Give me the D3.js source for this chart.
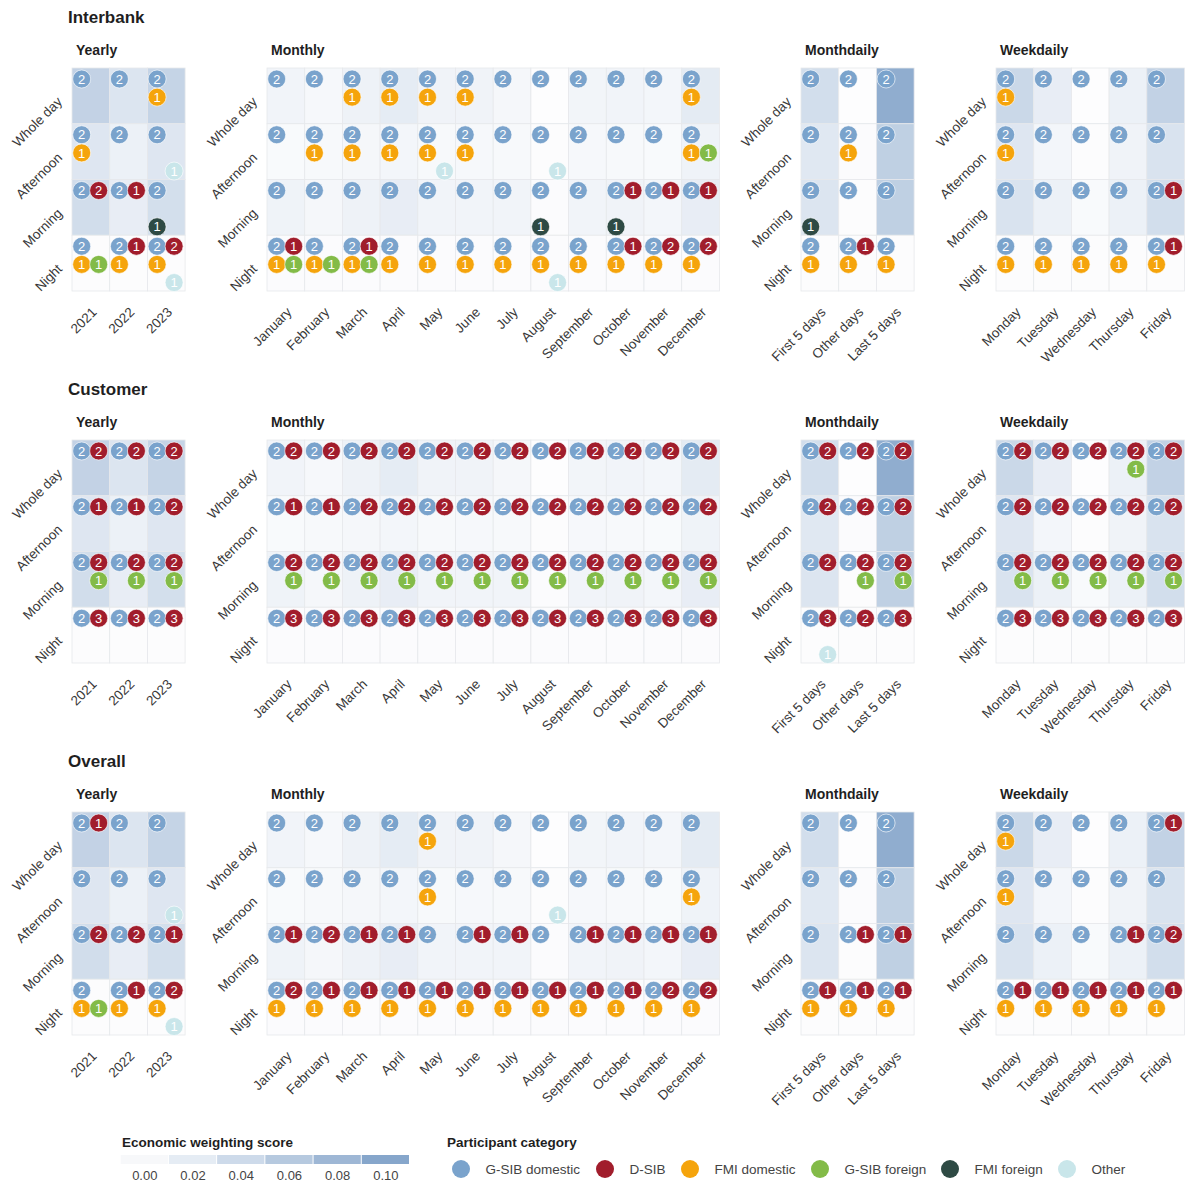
<!DOCTYPE html>
<html>
<head>
<meta charset="utf-8">
<script src="https://cdn.jsdelivr.net/npm/d3@7"></script>
<style>
  body { margin: 0; background: #ffffff; }
  svg text { font-family: "Liberation Sans", Arial, sans-serif; }
</style>
</head>
<body>
<svg id="chart" width="1186" height="1180"></svg>
<script>
// ---- categories -------------------------------------------------------
const dayParts = ["Whole day", "Afternoon", "Morning", "Night"];
const years = ["2021", "2022", "2023"];
const months = ["January", "February", "March", "April", "May", "June", "July",
                "August", "September", "October", "November", "December"];
const monthParts = ["First 5 days", "Other days", "Last 5 days"];
const weekdays = ["Monday", "Tuesday", "Wednesday", "Thursday", "Friday"];

const categoryCodes = ["gd", "ds", "fd", "gf", "ff", "ot"];
const categoryNames = ["G-SIB domestic", "D-SIB", "FMI domestic", "G-SIB foreign", "FMI foreign", "Other"];
const categoryColors = ["#7aa3cc", "#a11d2c", "#f5a40c", "#83bb48", "#2e4a44", "#c9e6ea"];

const scoreTicks = [0.00, 0.02, 0.04, 0.06, 0.08, 0.10];

// ---- economic weighting score per time bucket (rows follow dayParts) ----
const yearlyScore = [
  [0.049, 0.028, 0.047],
  [0.026, 0.014, 0.026],
  [0.037, 0.018, 0.035],
  [0.001, 0.001, 0.001]
];
const monthlyScore = [
  [0.010, 0.006, 0.013, 0.020, 0.011, 0.011, 0.007, 0.000, 0.009, 0.010, 0.008, 0.021],
  [0.004, 0.005, 0.007, 0.008, 0.005, 0.006, 0.005, 0.001, 0.006, 0.005, 0.004, 0.012],
  [0.012, 0.007, 0.013, 0.018, 0.010, 0.010, 0.010, 0.002, 0.010, 0.011, 0.008, 0.018],
  [0.002, 0.002, 0.002, 0.002, 0.002, 0.002, 0.002, 0.002, 0.002, 0.002, 0.002, 0.002]
];
const monthdailyScore = [
  [0.036, 0.000, 0.092],
  [0.024, 0.002, 0.052],
  [0.028, 0.001, 0.052],
  [0.001, 0.001, 0.001]
];
const weekdailyScore = [
  [0.043, 0.018, 0.000, 0.014, 0.050],
  [0.026, 0.008, 0.001, 0.011, 0.030],
  [0.030, 0.014, 0.004, 0.014, 0.036],
  [0.001, 0.001, 0.001, 0.001, 0.001]
];

// ---- participant counts per cell: code + count, rows follow dayParts ----
const interbankYearly = [
  ["gd2", "gd2", "gd2 fd1"],
  ["gd2 fd1", "gd2", "gd2 ot1"],
  ["gd2 ds2", "gd2 ds1", "gd2 ff1"],
  ["gd2 fd1 gf1", "gd2 ds1 fd1", "gd2 ds2 fd1 ot1"]
];
const interbankMonthly = [
  ["gd2", "gd2", "gd2 fd1", "gd2 fd1", "gd2 fd1", "gd2 fd1", "gd2", "gd2", "gd2", "gd2", "gd2", "gd2 fd1"],
  ["gd2", "gd2 fd1", "gd2 fd1", "gd2 fd1", "gd2 fd1 ot1", "gd2 fd1", "gd2", "gd2 ot1", "gd2", "gd2", "gd2", "gd2 fd1 gf1"],
  ["gd2", "gd2", "gd2", "gd2", "gd2", "gd2", "gd2", "gd2 ff1", "gd2", "gd2 ds1 ff1", "gd2 ds1", "gd2 ds1"],
  ["gd2 ds1 fd1 gf1", "gd2 fd1 gf1", "gd2 ds1 fd1 gf1", "gd2 fd1", "gd2 fd1", "gd2 fd1", "gd2 fd1", "gd2 fd1 ot1", "gd2 fd1", "gd2 ds1 fd1", "gd2 ds2 fd1", "gd2 ds2 fd1"]
];
const interbankMonthdaily = [
  ["gd2", "gd2", "gd2"],
  ["gd2", "gd2 fd1", "gd2"],
  ["gd2 ff1", "gd2", "gd2"],
  ["gd2 fd1", "gd2 ds1 fd1", "gd2 fd1"]
];
const interbankWeekdaily = [
  ["gd2 fd1", "gd2", "gd2", "gd2", "gd2"],
  ["gd2 fd1", "gd2", "gd2", "gd2", "gd2"],
  ["gd2", "gd2", "gd2", "gd2", "gd2 ds1"],
  ["gd2 fd1", "gd2 fd1", "gd2 fd1", "gd2 fd1", "gd2 ds1 fd1"]
];

const customerYearly = [
  ["gd2 ds2", "gd2 ds2", "gd2 ds2"],
  ["gd2 ds1", "gd2 ds1", "gd2 ds2"],
  ["gd2 ds2 gf1", "gd2 ds2 gf1", "gd2 ds2 gf1"],
  ["gd2 ds3", "gd2 ds3", "gd2 ds3"]
];
const customerMonthly = [
  ["gd2 ds2", "gd2 ds2", "gd2 ds2", "gd2 ds2", "gd2 ds2", "gd2 ds2", "gd2 ds2", "gd2 ds2", "gd2 ds2", "gd2 ds2", "gd2 ds2", "gd2 ds2"],
  ["gd2 ds1", "gd2 ds1", "gd2 ds2", "gd2 ds2", "gd2 ds2", "gd2 ds2", "gd2 ds2", "gd2 ds2", "gd2 ds2", "gd2 ds2", "gd2 ds2", "gd2 ds2"],
  ["gd2 ds2 gf1", "gd2 ds2 gf1", "gd2 ds2 gf1", "gd2 ds2 gf1", "gd2 ds2 gf1", "gd2 ds2 gf1", "gd2 ds2 gf1", "gd2 ds2 gf1", "gd2 ds2 gf1", "gd2 ds2 gf1", "gd2 ds2 gf1", "gd2 ds2 gf1"],
  ["gd2 ds3", "gd2 ds3", "gd2 ds3", "gd2 ds3", "gd2 ds3", "gd2 ds3", "gd2 ds3", "gd2 ds3", "gd2 ds3", "gd2 ds3", "gd2 ds3", "gd2 ds3"]
];
const customerMonthdaily = [
  ["gd2 ds2", "gd2 ds2", "gd2 ds2"],
  ["gd2 ds2", "gd2 ds2", "gd2 ds2"],
  ["gd2 ds2", "gd2 ds2 gf1", "gd2 ds2 gf1"],
  ["gd2 ds3 ot1", "gd2 ds2", "gd2 ds3"]
];
const customerWeekdaily = [
  ["gd2 ds2", "gd2 ds2", "gd2 ds2", "gd2 ds2 gf1", "gd2 ds2"],
  ["gd2 ds2", "gd2 ds2", "gd2 ds2", "gd2 ds2", "gd2 ds2"],
  ["gd2 ds2 gf1", "gd2 ds2 gf1", "gd2 ds2 gf1", "gd2 ds2 gf1", "gd2 ds2 gf1"],
  ["gd2 ds3", "gd2 ds3", "gd2 ds3", "gd2 ds3", "gd2 ds3"]
];

const overallYearly = [
  ["gd2 ds1", "gd2", "gd2"],
  ["gd2", "gd2", "gd2 ot1"],
  ["gd2 ds2", "gd2 ds2", "gd2 ds1"],
  ["gd2 fd1 gf1", "gd2 ds1 fd1", "gd2 ds2 fd1 ot1"]
];
const overallMonthly = [
  ["gd2", "gd2", "gd2", "gd2", "gd2 fd1", "gd2", "gd2", "gd2", "gd2", "gd2", "gd2", "gd2"],
  ["gd2", "gd2", "gd2", "gd2", "gd2 fd1", "gd2", "gd2", "gd2 ot1", "gd2", "gd2", "gd2", "gd2 fd1"],
  ["gd2 ds1", "gd2 ds2", "gd2 ds1", "gd2 ds1", "gd2", "gd2 ds1", "gd2 ds1", "gd2", "gd2 ds1", "gd2 ds1", "gd2 ds1", "gd2 ds1"],
  ["gd2 ds2 fd1", "gd2 ds1 fd1", "gd2 ds1 fd1", "gd2 ds1 fd1", "gd2 ds1 fd1", "gd2 ds1 fd1", "gd2 ds1 fd1", "gd2 ds1 fd1", "gd2 ds1 fd1", "gd2 ds1 fd1", "gd2 ds2 fd1", "gd2 ds2 fd1"]
];
const overallMonthdaily = [
  ["gd2", "gd2", "gd2"],
  ["gd2", "gd2", "gd2"],
  ["gd2", "gd2 ds1", "gd2 ds1"],
  ["gd2 ds1 fd1", "gd2 ds1 fd1", "gd2 ds1 fd1"]
];
const overallWeekdaily = [
  ["gd2 fd1", "gd2", "gd2", "gd2", "gd2 ds1"],
  ["gd2 fd1", "gd2", "gd2", "gd2", "gd2"],
  ["gd2", "gd2", "gd2", "gd2 ds1", "gd2 ds2"],
  ["gd2 ds1 fd1", "gd2 ds1 fd1", "gd2 ds1 fd1", "gd2 ds1 fd1", "gd2 ds1 fd1"]
];

// ---- layout --------------------------------------------------------------
const cellW = 37.7;
const cellH = 55.75;
const gridTop = 68;
const sectionStep = 372;
const labelColor = "#383838";
const titleColor = "#1f1f1f";
const fontFamily = '"Liberation Sans", Arial, sans-serif';

const panels = [
  { title: "Yearly", columns: years, left: 72, score: yearlyScore },
  { title: "Monthly", columns: months, left: 267, score: monthlyScore },
  { title: "Monthdaily", columns: monthParts, left: 801, score: monthdailyScore },
  { title: "Weekdaily", columns: weekdays, left: 996, score: weekdailyScore }
];

const sections = [
  { title: "Interbank", cells: [interbankYearly, interbankMonthly, interbankMonthdaily, interbankWeekdaily] },
  { title: "Customer", cells: [customerYearly, customerMonthly, customerMonthdaily, customerWeekdaily] },
  { title: "Overall", cells: [overallYearly, overallMonthly, overallMonthdaily, overallWeekdaily] }
];

// slot of each participant category inside a cell (column, row)
const slotCol = { gd: 0, ds: 1, fd: 0, gf: 1, ff: 0, ot: 1 };
const slotRow = { gd: 0, ds: 0, fd: 1, gf: 1, ff: 2, ot: 2 };
const slotX = d3.scaleLinear().domain([0, 1]).range([9.7, 26.7]);
const slotY = d3.scaleLinear().domain([0, 2]).range([11, 47.3]);
const dotR = 9;

const scoreColor = d3.scaleLinear()
  .domain([0, 0.10])
  .range(["#fdfdfe", "#86a6cb"])
  .interpolate(d3.interpolateRgb)
  .clamp(true);
const catColor = d3.scaleOrdinal().domain(categoryCodes).range(categoryColors);

function parseCell(code) {
  return code.split(" ").filter(Boolean).map(s => ({ cat: s.slice(0, 2), n: s.slice(2) }));
}

const svg = d3.select("#chart");

sections.forEach((section, si) => {
  const off = si * sectionStep;
  const g = svg.append("g").attr("transform", `translate(0,${off})`);

  g.append("text")
    .attr("x", 68).attr("y", 23)
    .attr("font-size", 17).attr("font-weight", "bold")
    .attr("fill", titleColor)
    .text(section.title);

  panels.forEach((panel, pi) => {
    const x = d3.scaleBand().domain(panel.columns)
      .range([panel.left, panel.left + panel.columns.length * cellW]);
    const y = d3.scaleBand().domain(dayParts)
      .range([gridTop, gridTop + dayParts.length * cellH]);
    const cells = section.cells[pi];
    const pg = g.append("g");

    pg.append("text")
      .attr("x", panel.left + 4).attr("y", 55)
      .attr("font-size", 14).attr("font-weight", "bold")
      .attr("fill", titleColor)
      .text(panel.title);

    // background tiles
    const tiles = [];
    dayParts.forEach((row, ri) => panel.columns.forEach((col, ci) => {
      tiles.push({ row, col, score: panel.score[ri][ci], marks: parseCell(cells[ri][ci]) });
    }));

    pg.selectAll("rect.tile").data(tiles).join("rect")
      .attr("class", "tile")
      .attr("x", d => x(d.col)).attr("y", d => y(d.row))
      .attr("width", x.bandwidth()).attr("height", y.bandwidth())
      .attr("fill", d => scoreColor(d.score))
      .attr("stroke", "#e6e8eb").attr("stroke-width", 0.8);

    // participant dots
    const dots = tiles.flatMap(t => t.marks.map(m => ({ ...m, row: t.row, col: t.col })));
    const dg = pg.selectAll("g.dot").data(dots).join("g")
      .attr("class", "dot")
      .attr("transform", d => `translate(${x(d.col) + slotX(slotCol[d.cat])},${y(d.row) + slotY(slotRow[d.cat])})`);
    dg.append("circle")
      .attr("r", dotR)
      .attr("fill", d => catColor(d.cat))
      .attr("stroke", "#ffffff").attr("stroke-opacity", 0.7).attr("stroke-width", 0.9);
    dg.append("text")
      .attr("text-anchor", "middle").attr("dy", "0.36em")
      .attr("font-size", 13).attr("fill", "#ffffff")
      .text(d => d.n);

    // row axis
    pg.append("g")
      .attr("transform", `translate(${panel.left},0)`)
      .call(d3.axisLeft(y).tickSize(0))
      .call(a => a.select(".domain").remove())
      .call(a => a.selectAll(".tick text")
        .attr("x", 0).attr("dy", 0)
        .attr("text-anchor", "end")
        .attr("transform", "translate(-9,6.7) rotate(-45)")
        .attr("font-size", 13.5).attr("font-family", fontFamily)
        .attr("fill", labelColor));

    // column axis
    pg.append("g")
      .attr("transform", `translate(0,${gridTop + dayParts.length * cellH})`)
      .call(d3.axisBottom(x).tickSize(0))
      .call(a => a.select(".domain").remove())
      .call(a => a.selectAll(".tick text")
        .attr("y", 0).attr("dy", 0)
        .attr("text-anchor", "end")
        .attr("transform", "translate(6.7,22) rotate(-45)")
        .attr("font-size", 13.5).attr("font-family", fontFamily)
        .attr("fill", labelColor));
  });
});

// ---- legends -------------------------------------------------------------
const legend = svg.append("g");

legend.append("text")
  .attr("x", 122).attr("y", 1147)
  .attr("font-size", 13.5).attr("font-weight", "bold").attr("fill", titleColor)
  .text("Economic weighting score");

const swatchX = d3.scaleBand().domain(scoreTicks).range([120.7, 410]);
legend.selectAll("rect.swatch").data(scoreTicks).join("rect")
  .attr("class", "swatch")
  .attr("x", d => swatchX(d)).attr("y", 1155)
  .attr("width", swatchX.bandwidth() - 1).attr("height", 9)
  .attr("fill", d => d === 0 ? "#f7f8fa" : scoreColor(d));
legend.selectAll("text.tick").data(scoreTicks).join("text")
  .attr("class", "tick")
  .attr("x", d => swatchX(d) + swatchX.bandwidth() / 2).attr("y", 1180)
  .attr("text-anchor", "middle")
  .attr("font-size", 13).attr("fill", "#444")
  .text(d => d3.format(".2f")(d));

legend.append("text")
  .attr("x", 447).attr("y", 1147)
  .attr("font-size", 13.5).attr("font-weight", "bold").attr("fill", titleColor)
  .text("Participant category");

const legendCx = [461, 605, 690, 820, 950, 1067];
const items = legend.selectAll("g.item").data(categoryCodes).join("g")
  .attr("class", "item")
  .attr("transform", (d, i) => `translate(${legendCx[i]},1169)`);
items.append("circle").attr("r", 9).attr("fill", d => catColor(d));
items.append("text")
  .attr("x", 24.5).attr("dy", "0.35em")
  .attr("font-size", 13.5).attr("fill", "#444")
  .text((d, i) => categoryNames[i]);
</script>
</body>
</html>
